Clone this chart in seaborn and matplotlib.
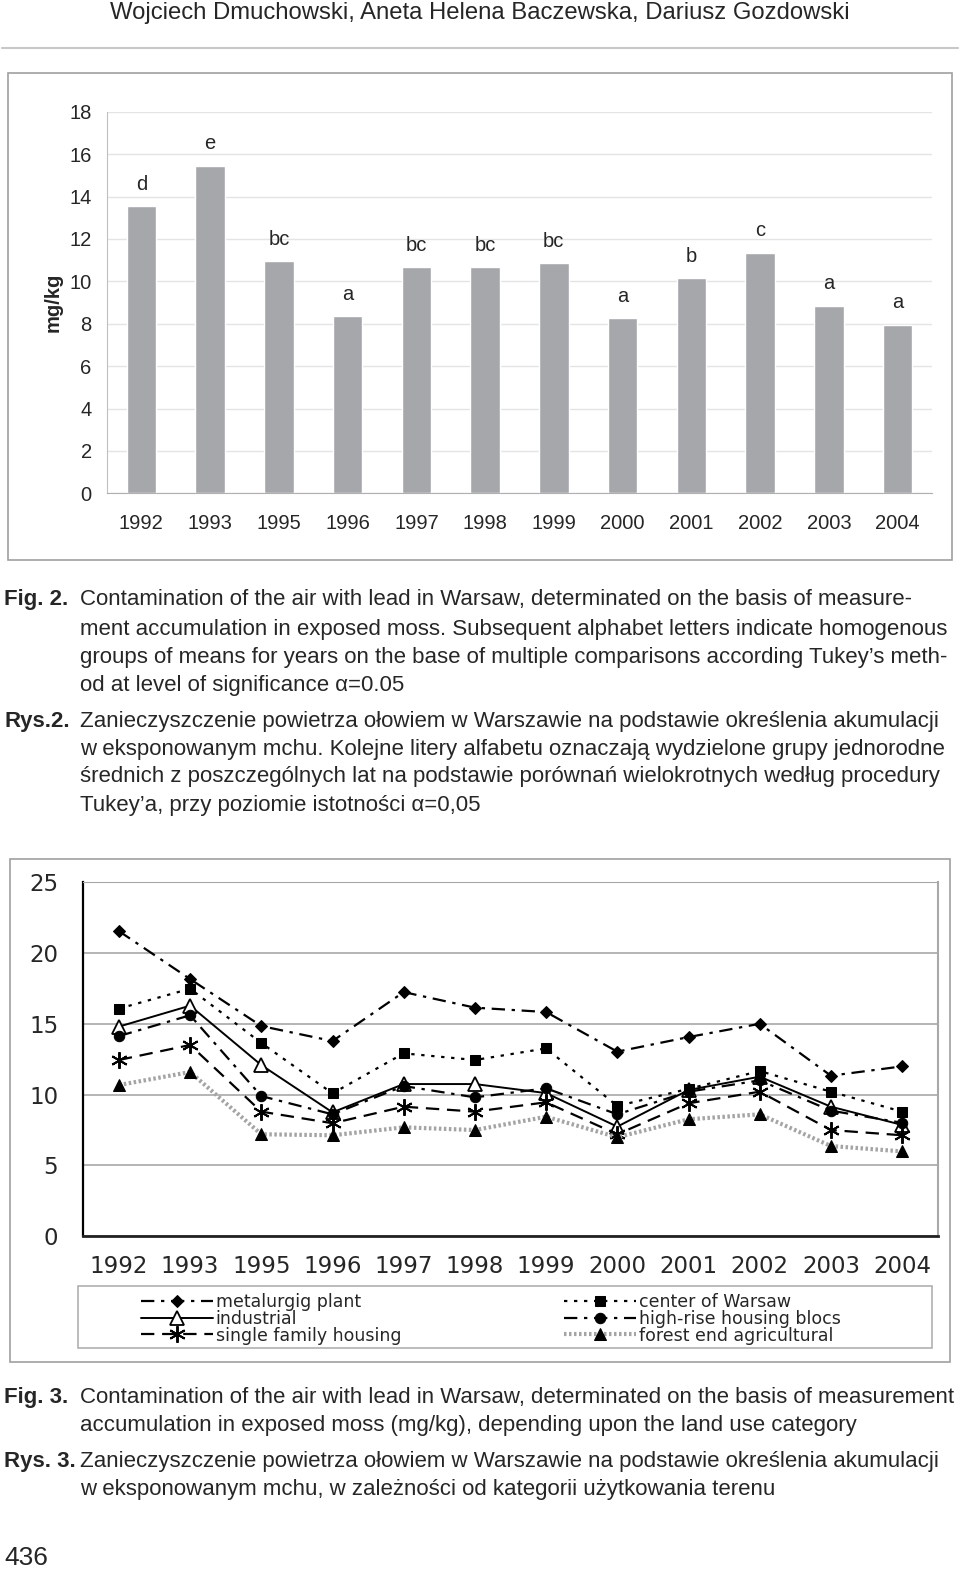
import numpy as np
import pandas as pd
import matplotlib.pyplot as plt
import seaborn as sns
from matplotlib.patches import Rectangle
from matplotlib.lines import Line2D

sns.set_style('white')
plt.rcParams['font.family'] = ['Liberation Sans', 'DejaVu Sans']

# Fig. 2 - dane (mg/kg)
years = ['1992', '1993', '1995', '1996', '1997', '1998',
         '1999', '2000', '2001', '2002', '2003', '2004']
mean_pb = [13.55, 15.45, 10.94, 8.35, 10.66, 10.66,
           10.85, 8.25, 10.14, 11.35, 8.85, 7.95]
groups = ['d', 'e', 'bc', 'a', 'bc', 'bc', 'bc', 'a', 'b', 'c', 'a', 'a']

# Fig. 3 - dane wg kategorii terenu
metalurgig = [21.55, 18.16, 14.84, 13.78, 17.24, 16.14, 15.83, 13.03, 14.06, 15.0, 11.33, 11.99]
center = [16.07, 17.48, 13.64, 10.08, 12.91, 12.44, 13.26, 9.19, 10.4, 11.66, 10.2, 8.79]
industrial = [14.8, 16.28, 12.08, 8.74, 10.74, 10.74, 10.1, 7.73, 10.32, 11.26, 9.14, 7.85]
high_rise = [14.13, 15.6, 9.89, 8.6, 10.6, 9.8, 10.44, 8.6, 10.2, 11.0, 8.86, 8.0]
single_family = [12.44, 13.5, 8.79, 7.97, 9.14, 8.79, 9.45, 7.19, 9.38, 10.2, 7.49, 7.12]
forest = [10.67, 11.59, 7.19, 7.12, 7.68, 7.49, 8.43, 6.98, 8.25, 8.6, 6.36, 5.98]

W, H = 960, 1572
fig = plt.figure(figsize=(W / 100, H / 100), dpi=100)


def fx(px):
    return px / W


def fy(py):
    return 1 - py / H


# naglowek strony
fig.text(0.5, fy(13), 'Wojciech Dmuchowski, Aneta Helena Baczewska, Dariusz Gozdowski',
         ha='center', va='center', fontsize=17.2)
fig.add_artist(Line2D([fx(2), fx(958)], [fy(48), fy(48)], color='#c8c8c8', lw=1.5))

# ramki wykresow
fig.add_artist(Rectangle((fx(8), fy(560)), fx(952) - fx(8), fy(73) - fy(560),
                         fill=False, edgecolor='#a0a0a0', lw=1.2))
fig.add_artist(Rectangle((fx(10), fy(1362)), fx(950) - fx(10), fy(859) - fy(1362),
                         fill=False, edgecolor='#a0a0a0', lw=1.2))

# ---------------- Fig. 2 - wykres slupkowy ----------------
ax1 = fig.add_axes([fx(107), fy(493.3), fx(932) - fx(107), fy(111.7) - fy(493.3)])
sns.barplot(x=years, y=mean_pb, color='#a6a7ab', saturation=1, width=0.43, ax=ax1)
ax1.set_ylim(0, 18)
ax1.set_xlim(-0.5, 11.5)
ax1.set_yticks(range(0, 19, 2))
ax1.yaxis.grid(True, color='#e4e4e4', lw=1)
ax1.set_axisbelow(True)
for s in ['top', 'right']:
    ax1.spines[s].set_visible(False)
ax1.spines['left'].set_color('#c0c0c0')
ax1.spines['bottom'].set_color('#b0b0b0')
ax1.tick_params(axis='y', length=4, color='#c0c0c0', labelsize=14.5, pad=7)
ax1.tick_params(axis='x', which='major', length=0, labelsize=14.5, pad=15)
ax1.set_xticks(np.arange(-0.5, 12, 1), minor=True)
ax1.tick_params(axis='x', which='minor', length=5, color='#b0b0b0')
ax1.set_ylabel('mg/kg', fontsize=14.5, fontweight='bold', labelpad=5)
for i, (v, g) in enumerate(zip(mean_pb, groups)):
    ax1.annotate(g, (i, v), xytext=(0, 9), textcoords='offset points',
                 ha='center', va='bottom', fontsize=14.5)

# podpis Fig. 2
cap = 16
fig.text(fx(4), fy(600), 'Fig. 2.', fontsize=cap, fontweight='bold', va='center')
lines_fig2 = ['Contamination of the air with lead in Warsaw, determinated on the basis of measure-',
              'ment accumulation in exposed moss. Subsequent alphabet letters indicate homogenous',
              'groups of means for years on the base of multiple comparisons according Tukey\u2019s meth-',
              'od at level of significance \u03b1=0.05']
for k, t in enumerate(lines_fig2):
    fig.text(fx(80), fy([600, 629, 657, 685][k]), t, fontsize=cap, va='center')
fig.text(fx(4), fy(721), 'Rys.2.', fontsize=cap, fontweight='bold', va='center')
lines_rys2 = ['Zanieczyszczenie powietrza ołowiem w Warszawie na podstawie określenia akumulacji',
              'w eksponowanym mchu. Kolejne litery alfabetu oznaczają wydzielone grupy jednorodne',
              'średnich z poszczególnych lat na podstawie porównań wielokrotnych według procedury',
              'Tukey\u2019a, przy poziomie istotności \u03b1=0,05']
for k, t in enumerate(lines_rys2):
    fig.text(fx(80), fy([721, 749, 777, 806][k]), t, fontsize=cap, va='center')

# ---------------- Fig. 3 - wykres liniowy ----------------
ax2 = fig.add_axes([fx(83.3), fy(1236), fx(937.7) - fx(83.3), fy(882.3) - fy(1236)])
series = [
    ('metalurgig plant', metalurgig, dict(color='black', lw=1.6, linestyle=(0, (6, 3, 1.5, 3)),
                                          marker='D', ms=6.5, mfc='black', mec='black')),
    ('industrial', industrial, dict(color='black', lw=1.4, linestyle='-',
                                    marker='^', ms=10, mfc='white', mec='black', mew=1.3)),
    ('single family housing', single_family, dict(color='black', lw=1.6, linestyle=(0, (6, 3.5)),
                                                  marker=(6, 2, 0), ms=12, mfc='black', mec='black', mew=1.4)),
    ('center of Warsaw', center, dict(color='black', lw=1.6, linestyle=(0, (1.5, 3)),
                                      marker='s', ms=7, mfc='black', mec='black')),
    ('high-rise housing blocs', high_rise, dict(color='black', lw=1.6, linestyle=(0, (6, 3, 1.5, 3)),
                                                marker='o', ms=7.5, mfc='black', mec='black')),
    ('forest end agricultural', forest, dict(color='#a4a4a4', lw=3.0, linestyle=(0, (0.6, 0.6)),
                                             marker='^', ms=9, mfc='black', mec='black')),
]
for name, vals, kw in series:
    sns.lineplot(x=years, y=vals, ax=ax2, label=name, sort=False, **kw)

ax2.set_ylim(0, 25)
ax2.set_xlim(-0.5, 11.5)
ax2.set_yticks(range(0, 26, 5))
ax2.yaxis.grid(True, color='#a8a8a8', lw=1.2)
ax2.set_axisbelow(True)
ax2.spines['top'].set_color('#a8a8a8')
ax2.spines['right'].set_color('#a8a8a8')
ax2.spines['right'].set_linewidth(1.5)
ax2.spines['left'].set_color('black')
ax2.spines['left'].set_linewidth(1.6)
ax2.spines['bottom'].set_color('#222222')
ax2.spines['bottom'].set_linewidth(2)
ax2.set_xlabel('')
ax2.set_ylabel('')
ax2.tick_params(axis='y', length=6, width=1.6, labelsize=16.5, pad=12)
ax2.tick_params(axis='x', which='major', length=0, labelsize=16.5, pad=14)
ax2.set_xticks(np.arange(-0.5, 12, 1), minor=True)
ax2.tick_params(axis='x', which='minor', length=6, width=1.6)
for lab in ax2.get_xticklabels() + ax2.get_yticklabels():
    lab.set_family('DejaVu Sans')

handles, labels = ax2.get_legend_handles_labels()
ax2.get_legend().remove()
fig.add_artist(Rectangle((fx(78), fy(1348)), fx(932) - fx(78), fy(1286) - fy(1348),
                         fill=False, edgecolor='#b0b0b0', lw=1.2))
leg = fig.legend(handles, labels, ncol=2, loc='upper left',
                 bbox_to_anchor=(fx(141), fy(1293)), frameon=False,
                 prop={'family': 'DejaVu Sans', 'size': 12.5},
                 handlelength=4.15, handletextpad=0.15, labelspacing=-0.07,
                 columnspacing=9.4, borderpad=0, borderaxespad=0)

# podpis Fig. 3
fig.text(fx(4), fy(1397), 'Fig. 3.', fontsize=cap, fontweight='bold', va='center')
fig.text(fx(80), fy(1397), 'Contamination of the air with lead in Warsaw, determinated on the basis of measurement',
         fontsize=cap, va='center')
fig.text(fx(80), fy(1425), 'accumulation in exposed moss (mg/kg), depending upon the land use category',
         fontsize=cap, va='center')
fig.text(fx(4), fy(1461), 'Rys. 3.', fontsize=cap, fontweight='bold', va='center')
fig.text(fx(80), fy(1461), 'Zanieczyszczenie powietrza ołowiem w Warszawie na podstawie określenia akumulacji',
         fontsize=cap, va='center')
fig.text(fx(80), fy(1489), 'w eksponowanym mchu, w zależności od kategorii użytkowania terenu',
         fontsize=cap, va='center')

fig.text(fx(4), fy(1558), '436', fontsize=19, va='center')

fig.savefig('out.png', dpi=100)
